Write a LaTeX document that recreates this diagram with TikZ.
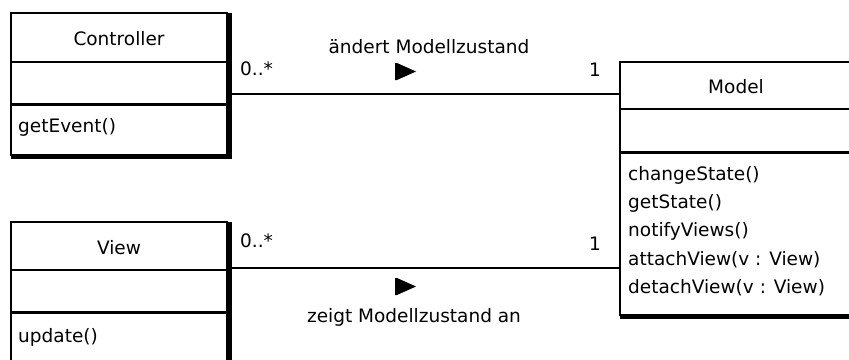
\documentclass[tikz,border=0pt]{standalone}
\usepackage{fontspec}
\setmainfont{DejaVu Sans}
\begin{document}
\begin{tikzpicture}[x=1pt,y=-1pt,
  box/.style={draw, line width=2pt, inner sep=0pt, outer sep=0pt},
  divider/.style={line width=2pt},
  divthick/.style={line width=3pt},
  lbl/.style={font=\fontsize{18.5}{20}\selectfont, inner sep=0pt, anchor=base},
  meth/.style={lbl, anchor=base west},
  assoc/.style={line width=2pt},
  dirmark/.style={fill=black}]
\clip (0,0) rectangle (849,359);
\fill[white] (0,0) rectangle (849,359);

% Controller
\node[box, minimum width=216pt, minimum height=142pt] (ctrl) at (119,84) {};
\fill ([xshift=-1pt]ctrl.north east) rectangle ([xshift=5pt,yshift=-4pt]ctrl.south east);
\fill ([yshift=1pt]ctrl.south west) rectangle ([xshift=5pt,yshift=-4pt]ctrl.south east);
\draw[divider] (ctrl.west |- 0,62) -- (ctrl.east |- 0,62);
\draw[divthick] (ctrl.west |- 0,104) -- (ctrl.east |- 0,104);
\node[lbl] (ctrlname) at (119,45) {Controller};
\node[meth] (ctrlop) at (18,132) {getEvent()};

% Model
\node[box, minimum width=232pt, minimum height=253pt] (model) at (736,188.5) {};
\fill ([xshift=-1pt]model.north east) rectangle ([xshift=5pt,yshift=-4pt]model.south east);
\fill ([yshift=1pt]model.south west) rectangle ([xshift=5pt,yshift=-4pt]model.south east);
\draw[divider] (model.west |- 0,109) -- (model.east |- 0,109);
\draw[divthick] (model.west |- 0,152) -- (model.east |- 0,152);
\node[lbl] (modelname) at (736,93) {Model};
\node[meth] (m1) at (628,180) {changeState()};
\node[meth] (m2) at (628,208) {getState()};
\node[meth] (m3) at (628,236.5) {notifyViews()};
\node[meth] (m4) at (628,265) {attachView(v : View)};
\node[meth] (m5) at (628,293) {detachView(v : View)};

% View
\node[box, minimum width=216pt, minimum height=180pt] (view) at (119,312) {};
\fill ([xshift=-1pt]view.north east) rectangle ([xshift=5pt,yshift=-4pt]view.south east);
\draw[divider] (view.west |- 0,270) -- (view.east |- 0,270);
\draw[divthick] (view.west |- 0,312) -- (view.east |- 0,312);
\node[lbl] (viewname) at (119,254) {View};
\node[meth] (viewop) at (18,342) {update()};

% Associations
\coordinate (a1) at (0,94);
\coordinate (a2) at (0,268);
\draw[assoc] (ctrl.east |- a1) -- (model.west |- a1);
\draw[assoc] (view.east |- a2) -- (model.west |- a2);

\node[lbl, anchor=base west] (c1) at (240,75) {0..*};
\node[lbl] (c2) at (595,76) {1};
\node[lbl] (l1) at (429,53) {ändert Modellzustand};
\fill[dirmark] (395,63) -- (397,63) -- (416,71.5) -- (397,80) -- (395,80) -- cycle;

\node[lbl, anchor=base west] (c3) at (240,247) {0..*};
\node[lbl] (c4) at (595,250) {1};
\node[lbl] (l2) at (414,322) {zeigt Modellzustand an};
\fill[dirmark] (395,278) -- (397,278) -- (416,286.5) -- (397,295) -- (395,295) -- cycle;
\end{tikzpicture}
\end{document}
